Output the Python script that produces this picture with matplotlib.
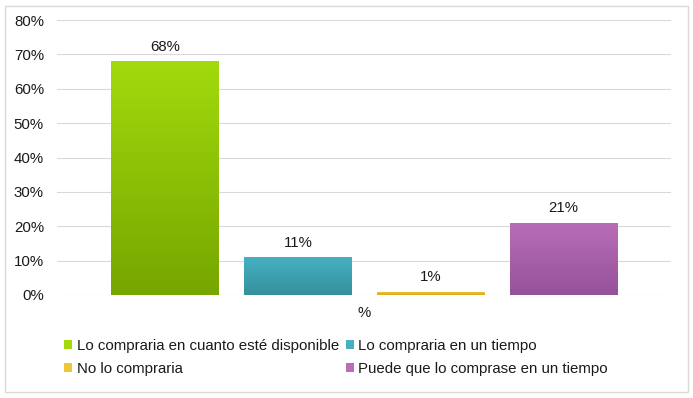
import matplotlib
matplotlib.use("Agg")
import matplotlib.pyplot as plt
import numpy as np
from matplotlib.colors import LinearSegmentedColormap
from matplotlib.patches import Rectangle

categories = ["Lo compraria en cuanto esté disponible", "Lo compraria en un tiempo",
              "No lo compraria", "Puede que lo comprase en un tiempo"]
values = [68, 11, 1, 21]
labels = ["68%", "11%", "1%", "21%"]
x_label = "%"
yticks = [0, 10, 20, 30, 40, 50, 60, 70, 80]
top_colors = ["#a2da0c", "#46b0c2", "#f2c437", "#ba6db8"]
bottom_colors = ["#76a600", "#36909c", "#e0aa20", "#94529a"]

plt.rcParams['font.family'] = ['Liberation Sans', 'DejaVu Sans']
FS = 10.8

fig = plt.figure(figsize=(6.93, 3.98), dpi=100)
# outer frame
fig.patches.append(Rectangle((5/693, 6/398), 683/693, 386/398, transform=fig.transFigure,
                             fill=False, edgecolor="#d9d9d9", linewidth=1))
ax = fig.add_axes([57/693, 1 - 295/398, (671 - 57)/693, (295 - 20)/398])

width = 0.812
xs = np.arange(len(values))
grad = np.linspace(0, 1, 256).reshape(-1, 1)
for i, (v, tc, bc) in enumerate(zip(values, top_colors, bottom_colors)):
    cmap = LinearSegmentedColormap.from_list(f"g{i}", [bc, tc])
    x0, x1 = xs[i] - width / 2, xs[i] + width / 2
    h = max(v, 0.6)
    bar = ax.bar(xs[i], h, width=width, color="none", zorder=2)[0]
    im = ax.imshow(grad, cmap=cmap, aspect="auto", extent=[x0, x1, 0, h], origin="lower", zorder=2)
    im.set_clip_path(bar)
    ax.text(xs[i], v + 2.2, labels[i], ha="center", va="bottom", fontsize=FS, color="#1a1a1a")

ax.set_xlim(-0.812, 3.808)
ax.set_ylim(0, 80)
ax.set_yticks(yticks)
ax.set_yticklabels([f"{t}%" for t in yticks], fontsize=FS, color="#1a1a1a")
ax.tick_params(axis="y", length=0, pad=9.4)
ax.set_xticks([])
ax.grid(axis="y", color="#d9d9d9", linewidth=0.8, zorder=0)
ax.set_axisbelow(True)
for s in ax.spines.values():
    s.set_visible(False)
ax.text(1.5, -3.2, x_label, ha="center", va="top", fontsize=FS, color="#1a1a1a")

order = [0, 2, 1, 3]
handles = [Rectangle((0, 0), 1, 1, facecolor=top_colors[i]) for i in order]
leg = fig.legend(handles, [categories[i] for i in order], loc="upper left",
                 bbox_to_anchor=(64/693, 1 - 339/398),
                 ncol=2, frameon=False, fontsize=FS, handlelength=0.55, handleheight=0.55,
                 handletextpad=0.3, columnspacing=0.45, labelspacing=0.6, borderpad=0,
                 borderaxespad=0)
for t in leg.get_texts():
    t.set_color("#1a1a1a")

fig.savefig("out.png", dpi=100)
